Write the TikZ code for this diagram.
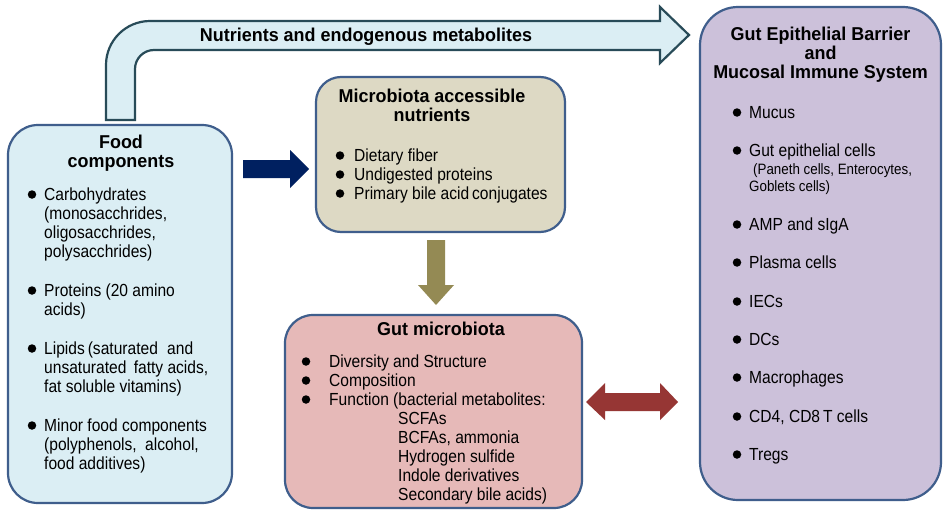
\documentclass[tikz,border=0pt]{standalone}
\usepackage{fontspec}
\newfontfamily\bodyfam[FakeStretch=0.89]{Liberation Sans}
\newfontfamily\headfam[FakeStretch=0.965]{Liberation Sans}
\newcommand\mybodyfont{\bodyfam\fontsize{17.5}{19}\selectfont}
\newcommand\mysmallfont{\bodyfam\fontsize{15}{16}\selectfont}
\newcommand\myheadfont{\headfam\bfseries\fontsize{18.6}{19}\selectfont}
\definecolor{boxline}{HTML}{3F5E8C}
\definecolor{foodfill}{HTML}{DBEEF4}
\definecolor{microfill}{HTML}{DDD9C4}
\definecolor{gutfill}{HTML}{E6B9B8}
\definecolor{rightfill}{HTML}{CCC1DA}
\definecolor{arrline}{HTML}{284B58}
\definecolor{navy}{HTML}{002060}
\definecolor{olive}{HTML}{948A54}
\definecolor{darkred}{HTML}{963634}
\begin{document}
\begin{tikzpicture}[x=1pt,y=-1pt,
  box/.style={draw=boxline, line width=2.2pt, rectangle},
  tx/.style={anchor=base west, inner sep=0pt, font=\mybodyfont},
  sm/.style={anchor=base west, inner sep=0pt, font=\mysmallfont},
  hd/.style={anchor=base, inner sep=0pt, font=\myheadfont},
  bul/.style={circle, fill=black, inner sep=0pt, minimum size=8.5pt}]
\useasboundingbox[fill=white] (0,0) rectangle (947,514);

% top bent arrow
\draw[draw=arrline, fill=foodfill, line width=2.2pt, line join=miter]
  (106,120) -- (106,65) .. controls (106,40.7) and (125.7,21) .. (150,21)
  -- (660,21) -- (660,7) -- (689,35) -- (660,63) -- (660,50)
  -- (154,50) .. controls (143.5,50) and (135,58.5) .. (135,69)
  -- (135,120) -- cycle;
\node[hd] (toptext) at (366,41) {Nutrients and endogenous metabolites};

% boxes
\node[box, fill=foodfill, rounded corners=30pt, minimum width=224pt, minimum height=378pt] (food) at (120,314) {};
\node[box, fill=microfill, rounded corners=25pt, minimum width=249pt, minimum height=155pt] (micro) at (440.5,154.5) {};
\node[box, fill=gutfill, rounded corners=28pt, minimum width=297pt, minimum height=193pt] (gut) at (433.5,411.5) {};
\node[box, fill=rightfill, rounded corners=38pt, minimum width=241pt, minimum height=493pt] (barrier) at (820.5,253.5) {};

% block arrows
\fill[navy] (243,160) -- (290,160) -- (290,150) -- (309,169) -- (290,188) -- (290,178) -- (243,178) -- cycle;
\fill[olive] (427,240) -- (445,240) -- (445,285) -- (454,285) -- (436,305) -- (418,285) -- (427,285) -- cycle;
\fill[darkred] (586,402) -- (605,383) -- (605,393) -- (660,393) -- (660,383) -- (678,402) -- (660,420) -- (660,411) -- (605,411) -- (605,420) -- cycle;

% food text
\node[hd] (foodt1) at (121,148.5) {Food};
\node[hd] (foodt2) at (121,167) {components};
\node[bul] (fb1) at (32,194.5) {};
\node[tx] (f1) at (44,200) {Carbohydrates};
\node[tx] (f2) at (44,219) {(monosacchrides,};
\node[tx] (f3) at (44,238) {oligosacchrides,};
\node[tx] (f4) at (44,257) {polysacchrides)};
\node[bul] (fb2) at (32,290.5) {};
\node[tx] (f5) at (44,296) {Proteins (20 amino};
\node[tx] (f6) at (44,315) {acids)};
\node[bul] (fb3) at (32,348.5) {};
\node[tx] (f7) at (44,354) {Lipids\,(saturated\hspace{5pt} and};
\node[tx] (f8) at (44,373) {unsaturated\hspace{3pt} fatty acids,};
\node[tx] (f9) at (44,392) {fat soluble vitamins)};
\node[bul] (fb4) at (32,425.5) {};
\node[tx] (f10) at (44,431) {Minor food components};
\node[tx] (f11) at (44,450) {(polyphenols,\hspace{4pt} alcohol,};
\node[tx] (f12) at (44,469) {food additives)};

% micro text
\node[hd] (mt1) at (432,102) {Microbiota accessible};
\node[hd] (mt2) at (432,121) {nutrients};
\node[bul] (mb1) at (340,155.5) {};
\node[tx] (m1) at (354,161) {Dietary fiber};
\node[bul] (mb2) at (340,174.5) {};
\node[tx] (m2) at (354,180) {Undigested proteins};
\node[bul] (mb3) at (340,193.5) {};
\node[tx] (m3) at (354,199) {Primary bile acid\,conjugates};

% gut text
\node[hd] (gt) at (441,335) {Gut microbiota};
\node[bul] (gb1) at (306,361.5) {};
\node[tx] (g1) at (329,367) {Diversity and Structure};
\node[bul] (gb2) at (306,380.5) {};
\node[tx] (g2) at (329,386) {Composition};
\node[bul] (gb3) at (306,399.5) {};
\node[tx] (g3) at (329,405) {Function (bacterial metabolites:};
\node[tx] (g4) at (398,424) {SCFAs};
\node[tx] (g5) at (398,443) {BCFAs, ammonia};
\node[tx] (g6) at (398,462) {Hydrogen sulfide};
\node[tx] (g7) at (398,481) {Indole derivatives};
\node[tx] (g8) at (398,500) {Secondary bile acids)};

% barrier text
\node[hd] (rt1) at (820.5,40) {Gut Epithelial Barrier};
\node[hd] (rt2) at (820.5,59) {and};
\node[hd] (rt3) at (820.5,78) {Mucosal Immune System};
\node[bul] (rb1) at (737,112.5) {};
\node[tx] (r1) at (749,118) {Mucus};
\node[bul] (rb2) at (737,150.5) {};
\node[tx] (r2) at (749,156) {Gut epithelial cells};
\node[sm] (r2a) at (753,174) {(Paneth cells, Enterocytes,};
\node[sm] (r2b) at (749,191) {Goblets cells)};
\node[bul] (rb3) at (737,224.5) {};
\node[tx] (r3) at (749,230) {AMP and sIgA};
\node[bul] (rb4) at (737,262.5) {};
\node[tx] (r4) at (749,268) {Plasma cells};
\node[bul] (rb5) at (737,301.5) {};
\node[tx] (r5) at (749,307) {IECs};
\node[bul] (rb6) at (737,339.5) {};
\node[tx] (r6) at (749,345) {DCs};
\node[bul] (rb7) at (737,377.5) {};
\node[tx] (r7) at (749,383) {Macrophages};
\node[bul] (rb8) at (737,416.5) {};
\node[tx] (r8) at (749,422) {CD4, CD8\,T cells};
\node[bul] (rb9) at (737,454.5) {};
\node[tx] (r9) at (749,460) {Tregs};
\end{tikzpicture}
\end{document}
